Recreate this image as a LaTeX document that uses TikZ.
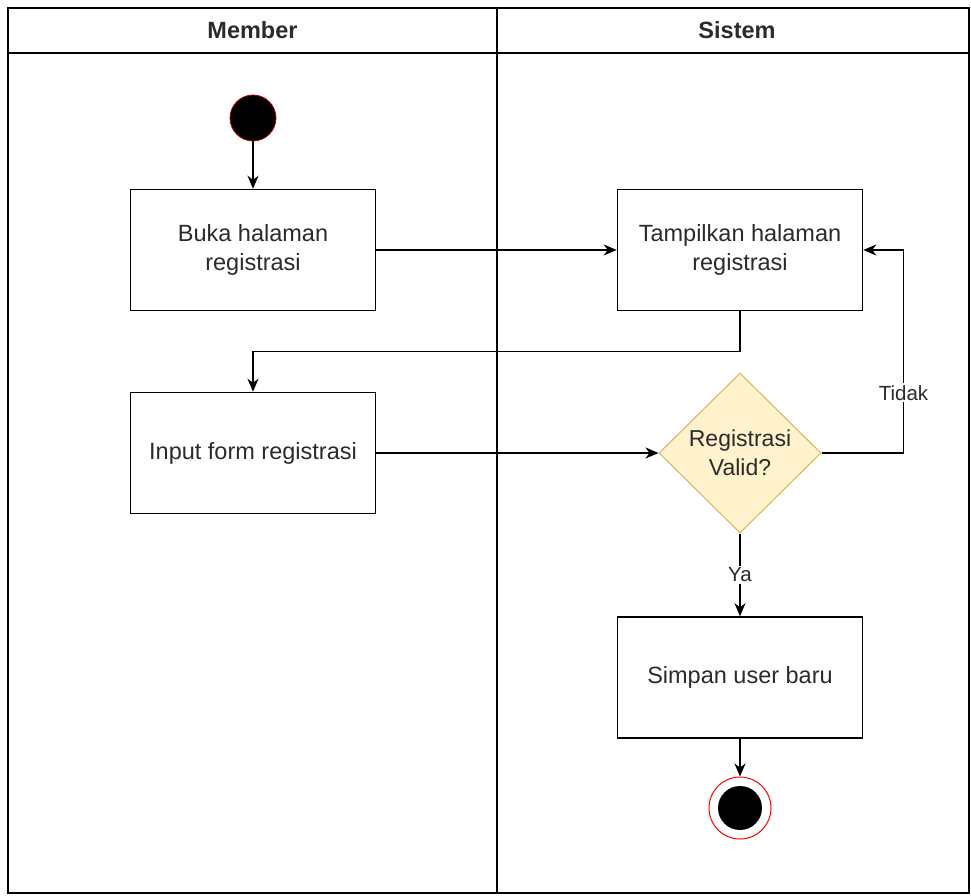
\documentclass[tikz,border=0pt]{standalone}
\usepackage{fontspec}
\setmainfont{Liberation Sans}
\usetikzlibrary{arrows.meta,shapes.geometric,calc}
\definecolor{txt}{HTML}{2B2B2B}
\definecolor{dfill}{HTML}{FFF2CC}
\definecolor{dline}{HTML}{D6B656}
\definecolor{redl}{HTML}{B00000}
\begin{document}
\begin{tikzpicture}[x=1pt,y=-1pt,
  lane/.style={draw=black,line width=1.5pt},
  actbox/.style={draw=black,line width=1.5pt,fill=white,minimum width=245pt,minimum height=121pt,align=center,font=\fontsize{23.5}{29.5}\selectfont,text=txt,inner sep=0pt},
  decide/.style={diamond,draw=dline,fill=dfill,line width=1pt,minimum width=162pt,minimum height=160pt,aspect=1,align=center,font=\fontsize{23}{29}\selectfont,text=txt,inner sep=0pt},
  flow/.style={draw=black,line width=1.5pt,-{Stealth[length=13pt,width=11pt,inset=4pt]}},
  lbl/.style={fill=white,font=\fontsize{20.5}{24}\selectfont,text=txt,inner sep=2pt},
  hdr/.style={font=\bfseries\fontsize{23.5}{28}\selectfont,text=txt}
]
\useasboundingbox (0,0) rectangle (971,895);
% swimlanes
\draw[lane] (8,8) rectangle (969,893);
\draw[lane] (8,53) -- (969,53);
\draw[lane] (497,8) -- (497,893);
\node[hdr] (hm) at (252.5,30.5) {Member};
\node[hdr] (hs) at (737,30.5) {Sistem};
% nodes
\node[circle,fill=black,draw=redl,line width=0.8pt,minimum size=46pt,inner sep=0pt] (start) at (253,118) {};
\node[actbox] (buka) at (253,250) {Buka halaman\\registrasi};
\node[actbox] (tampil) at (740,250) {Tampilkan halaman\\registrasi};
\node[actbox] (input) at (253,453) {Input form registrasi};
\node[decide] (dia) at (740,453) {Registrasi\\Valid?};
\node[actbox] (simpan) at (740,677.5) {Simpan user baru};
\node[circle,draw=red,fill=white,line width=1pt,minimum size=62pt,inner sep=0pt] (endo) at (740,808) {};
\node[circle,fill=black,minimum size=44pt,inner sep=0pt] (endi) at (endo.center) {};
% connectors
\draw[flow] (start) -- (buka);
\draw[flow] (buka) -- (tampil);
\draw[flow] (tampil.south) -- ++(0,40) -| (input.north);
\draw[flow] (input) -- (dia.west);
\draw[flow] (dia.east) -- ++(82,0) |- node[lbl,pos=0.148] (tidak) {Tidak} (tampil.east);
\draw[flow] (dia.south) -- node[lbl] (ya) {Ya} (simpan.north);
\draw[flow] (simpan.south) -- (endo.north);
\end{tikzpicture}
\end{document}
